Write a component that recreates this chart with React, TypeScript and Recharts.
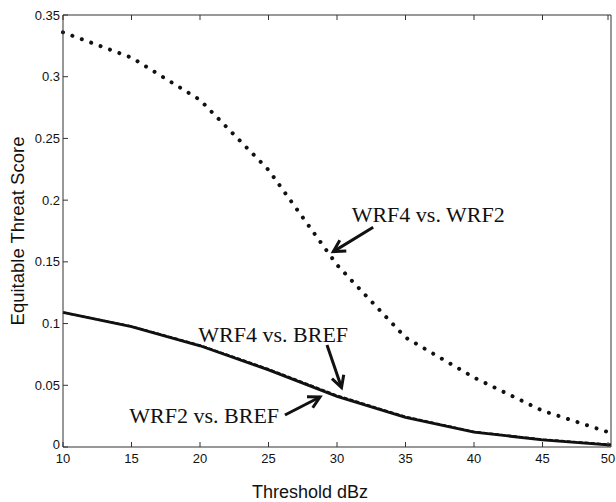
import { LineChart, Line, XAxis, YAxis, ReferenceLine, ReferenceDot } from 'recharts';

// Threshold (dBz) values and ETS for each comparison
const thresholds = [10, 15, 20, 25, 30, 35, 40, 45, 50];
const wrf4VsWrf2 = [0.336, 0.3155, 0.2812, 0.2245, 0.1475, 0.0887, 0.0563, 0.0294, 0.0113];
const wrf4VsBref = [0.109, 0.0978, 0.0825, 0.0632, 0.0418, 0.0246, 0.0124, 0.0062, 0.002];
const wrf2VsBref = [0.109, 0.0975, 0.082, 0.0625, 0.041, 0.024, 0.012, 0.0058, 0.0016];

const xTicks = [10, 15, 20, 25, 30, 35, 40, 45, 50];
const yTicks = [0, 0.05, 0.1, 0.15, 0.2, 0.25, 0.3, 0.35];

const annotations = [
  { text: 'WRF4 vs. WRF2', at: { x: 31.07, y: 0.1826 }, tail: { x: 32.64, y: 0.178 }, head: { x: 29.73, y: 0.1583 } },
  { text: 'WRF4 vs. BREF', at: { x: 19.88, y: 0.0848 }, tail: { x: 29.27, y: 0.0827 }, head: { x: 30.33, y: 0.0482 } },
  { text: 'WRF2 vs. BREF', at: { x: 14.84, y: 0.0192 }, tail: { x: 26.2, y: 0.0259 }, head: { x: 28.76, y: 0.0405 } },
];

const data = thresholds.map((t, i) => ({
  x: t,
  wrf4VsWrf2: wrf4VsWrf2[i],
  wrf4VsBref: wrf4VsBref[i],
  wrf2VsBref: wrf2VsBref[i],
}));

const sans = '"Liberation Sans", Arial, sans-serif';
const serif = '"Liberation Serif", "Times New Roman", serif';
const axisColor = '#333';
const TICK = 5;

const BottomTick = (props: any) => {
  const { x, y, payload } = props;
  return (
    <g>
      <line x1={x} y1={y} x2={x} y2={y - TICK} stroke={axisColor} />
      <text x={x} y={y + 16} textAnchor="middle" fontSize={13} fontFamily={sans} fill="#111">
        {payload.value}
      </text>
    </g>
  );
};

const TopTick = (props: any) => {
  const { x, y } = props;
  return <line x1={x} y1={y} x2={x} y2={y + TICK} stroke={axisColor} />;
};

const LeftTick = (props: any) => {
  const { x, y, payload } = props;
  // the "0" label sits a touch higher so it clears the "10" below it
  const dy = payload.value === 0 ? 2 : 4.5;
  return (
    <g>
      <line x1={x} y1={y} x2={x + TICK} y2={y} stroke={axisColor} />
      <text x={x - 3} y={y + dy} textAnchor="end" fontSize={13} fontFamily={sans} fill="#111">
        {String(payload.value)}
      </text>
    </g>
  );
};

const RightTick = (props: any) => {
  const { x, y } = props;
  return <line x1={x} y1={y} x2={x - TICK} y2={y} stroke={axisColor} />;
};

const ArrowShape = (props: any) => {
  const { x1, y1, x2, y2 } = props;
  const ang = Math.atan2(y2 - y1, x2 - x1);
  const len = 13;
  const spread = 0.5;
  const ax = x2 - len * Math.cos(ang - spread);
  const ay = y2 - len * Math.sin(ang - spread);
  const bx = x2 - len * Math.cos(ang + spread);
  const by = y2 - len * Math.sin(ang + spread);
  return (
    <g>
      <line x1={x1} y1={y1} x2={x2} y2={y2} stroke="#111" strokeWidth={3} />
      <path
        d={`M${ax},${ay} L${x2},${y2} L${bx},${by}`}
        fill="none"
        stroke="#111"
        strokeWidth={3}
        strokeLinejoin="miter"
      />
    </g>
  );
};

const makeTextShape = (text: string) => (props: any) => (
  <text x={props.cx} y={props.cy} fontSize={22} fontFamily={serif} fill="#111">
    {text}
  </text>
);

export default function App() {
  return (
    <div style={{ position: 'absolute', left: 0, top: 0, width: 616, height: 502, background: '#fff' }}>
      <LineChart width={616} height={502} data={data} margin={{ top: 14, right: 4, left: 0, bottom: 0 }}>
        <XAxis
          dataKey="x"
          type="number"
          domain={[10, 50]}
          ticks={xTicks}
          height={55}
          stroke={axisColor}
          tickSize={0}
          tickMargin={0}
          tick={<BottomTick />}
          label={{ value: 'Threshold dBz', position: 'insideBottom', offset: 4, dx: -27, fontSize: 18, fontFamily: sans, fill: '#111' }}
        />
        <XAxis
          xAxisId="top"
          orientation="top"
          dataKey="x"
          type="number"
          domain={[10, 50]}
          ticks={xTicks}
          height={1}
          stroke={axisColor}
          tickSize={0}
          tickMargin={0}
          tick={<TopTick />}
        />
        <YAxis
          type="number"
          domain={[0, 0.35]}
          ticks={yTicks}
          width={63}
          stroke={axisColor}
          tickSize={0}
          tickMargin={0}
          tick={<LeftTick />}
          label={{
            value: 'Equitable Threat Score',
            angle: -90,
            position: 'center',
            dx: -14.5,
            fontSize: 18.5,
            fontFamily: sans,
            fill: '#111',
          }}
        />
        <YAxis
          yAxisId="right"
          orientation="right"
          type="number"
          domain={[0, 0.35]}
          ticks={yTicks}
          width={1}
          stroke={axisColor}
          tickSize={0}
          tickMargin={0}
          tick={<RightTick />}
        />
        <Line
          type="linear"
          dataKey="wrf4VsWrf2"
          stroke="#111"
          strokeWidth={4}
          strokeDasharray="0.01 10"
          strokeLinecap="round"
          dot={false}
          isAnimationActive={false}
        />
        <Line
          type="linear"
          dataKey="wrf2VsBref"
          stroke="#111"
          strokeWidth={2.8}
          dot={false}
          isAnimationActive={false}
        />
        <Line
          type="linear"
          dataKey="wrf4VsBref"
          stroke="#111"
          strokeWidth={2}
          strokeDasharray="4 2"
          dot={false}
          isAnimationActive={false}
        />
        {annotations.map((a) => (
          <ReferenceLine
            key={`arrow-${a.text}`}
            segment={[a.tail, a.head]}
            shape={ArrowShape}
          />
        ))}
        {annotations.map((a) => (
          <ReferenceDot
            key={`label-${a.text}`}
            x={a.at.x}
            y={a.at.y}
            r={0}
            shape={makeTextShape(a.text)}
          />
        ))}
      </LineChart>
    </div>
  );
}
